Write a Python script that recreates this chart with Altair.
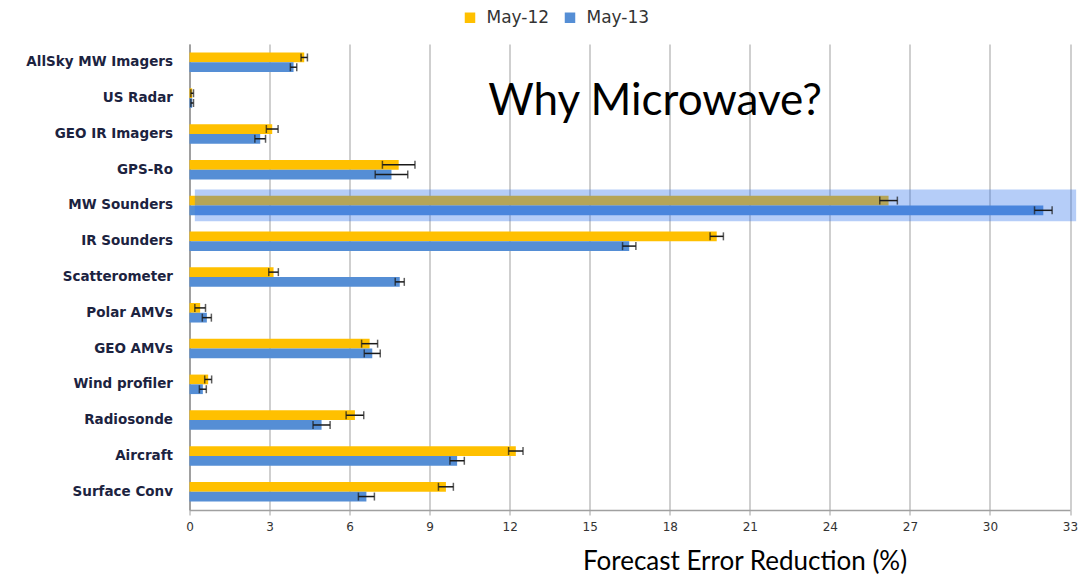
import altair as alt
import pandas as pd

categories = ["AllSky MW Imagers", "US Radar", "GEO IR Imagers", "GPS-Ro", "MW Sounders",
              "IR Sounders", "Scatterometer", "Polar AMVs", "GEO AMVs", "Wind profiler",
              "Radiosonde", "Aircraft", "Surface Conv"]
series = ["May-12", "May-13"]
may12 = [4.3, 0.1, 3.1, 7.84, 26.2, 19.76, 3.15, 0.4, 6.75, 0.7, 6.2, 12.23, 9.61]
may13 = [3.9, 0.1, 2.65, 7.57, 32.0, 16.48, 7.88, 0.65, 6.85, 0.5, 4.95, 10.03, 6.63]
err12 = [0.12, 0.05, 0.22, 0.61, 0.33, 0.25, 0.18, 0.2, 0.3, 0.13, 0.33, 0.27, 0.28]
err13 = [0.12, 0.05, 0.2, 0.61, 0.33, 0.25, 0.17, 0.17, 0.3, 0.13, 0.32, 0.27, 0.3]
x_ticks = [0, 3, 6, 9, 12, 15, 18, 21, 24, 27, 30, 33]
highlight_category = "MW Sounders"
highlight_start, highlight_end = 0.2, 33.23
note_text = "Why Microwave?"
note_x, note_category = 17.45, "US Radar"

rows = []
for i, c in enumerate(categories):
    rows.append(dict(category=c, series="May-12", value=may12[i], err=err12[i]))
    rows.append(dict(category=c, series="May-13", value=may13[i], err=err13[i]))
df = pd.DataFrame(rows)
df["lo"] = df["value"] - df["err"]
df["hi"] = df["value"] + df["err"]

x_scale = alt.Scale(domain=[0, 33], nice=False, zero=True)
x_axis = alt.Axis(values=x_ticks, title="Forecast Error Reduction (%)", grid=True,
                  gridColor="#cfcfcf", gridWidth=2, domainColor="#a0a0a0", domainWidth=1.5,
                  tickColor="#a0a0a0", tickSize=5, labelFont="DejaVu Sans", labelFontSize=12,
                  labelColor="#333333", labelPadding=6, labelFlush=False,
                  titleFont="Lato", titleFontSize=26,
                  titleFontWeight="normal", titleColor="black", titleX=555, titleY=51,
                  titleBaseline="middle", titleAlign="center")
y_scale = alt.Scale(paddingInner=0.455, paddingOuter=0.24)
y_axis = alt.Axis(title=None, grid=False, ticks=False, domainColor="#a0a0a0", domainWidth=2,
                  labelFont="DejaVu Sans", labelFontWeight="bold", labelFontSize=13.5,
                  labelColor="#1c2340", labelPadding=17)


def X(field):
    return alt.X(field, type="quantitative", scale=x_scale, axis=x_axis)


def Y():
    return alt.Y("category:N", sort=categories, scale=y_scale, axis=y_axis)


yoff = alt.YOffset("series:N", sort=series, scale=alt.Scale(paddingInner=0, paddingOuter=0))
color = alt.Color("series:N", sort=series,
                  scale=alt.Scale(domain=series, range=["#FFC000", "#558ED5"]),
                  legend=alt.Legend(title=None, orient="none", direction="horizontal",
                                    legendX=272, legendY=-35, symbolType="square",
                                    symbolSize=110, symbolStrokeWidth=0, labelFont="DejaVu Sans",
                                    labelFontSize=17, labelColor="#333333", labelOffset=8,
                                    columnPadding=12, padding=0))

bars = alt.Chart(df).mark_bar().encode(x=X("value"), y=Y(), yOffset=yoff, color=color)

hl_df = pd.DataFrame({"category": [highlight_category], "x1": [highlight_start], "x2": [highlight_end]})
highlight = alt.Chart(hl_df).mark_bar(height=31.7, color="#3778ec", opacity=0.37).encode(
    x=X("x1"), x2="x2:Q", y=Y())

err_rule = alt.Chart(df).mark_rule(color="#1a1a1a", strokeWidth=1.5).encode(
    x=X("lo"), x2="hi:Q", y=Y(), yOffset=yoff)
cap_lo = alt.Chart(df).mark_tick(color="#1a1a1a", thickness=1.5, size=8).encode(
    x=X("lo"), y=Y(), yOffset=yoff)
cap_hi = alt.Chart(df).mark_tick(color="#1a1a1a", thickness=1.5, size=8).encode(
    x=X("hi"), y=Y(), yOffset=yoff)

note_df = pd.DataFrame({"x": [note_x], "category": [note_category], "t": [note_text]})
note = alt.Chart(note_df).mark_text(font="Lato", fontSize=44, color="black", baseline="middle",
                                    dy=4).encode(x=X("x"), y=Y(), text="t:N")

chart = alt.layer(bars, highlight, err_rule, cap_lo, cap_hi, note).properties(
    width=880.5, height=466,
    autosize=alt.AutoSizeParams(type="none"),
    padding={"left": 181.5, "top": 36, "right": 14, "bottom": 66},
).configure_view(stroke=None)

chart.save("out.html", embed_options={"renderer": "svg", "actions": False})
